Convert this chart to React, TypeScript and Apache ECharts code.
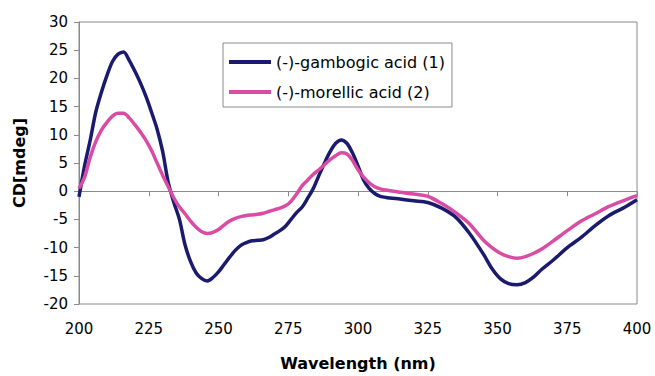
import React, { useEffect, useRef } from "react";
import * as echarts from "echarts";

const wavelengths = [
  200, 202, 204, 206, 208, 210, 212, 214, 216, 218, 220, 222, 224, 226, 228, 230, 232, 234, 236, 238,
  240, 242, 244, 246, 248, 250, 252, 254, 256, 258, 260, 262, 264, 266, 268, 270, 272, 274, 276, 278,
  280, 282, 284, 286, 288, 290, 292, 294, 296, 298, 300, 302, 304, 306, 308, 310, 315, 320, 325, 330,
  335, 340, 345, 348, 351, 354, 357, 360, 363, 366, 370, 375, 380, 385, 390, 395, 400,
];

const gambogic = [
  -1, 4.5, 9, 14, 17.5, 20.5, 23, 24.3, 24.7, 23.2, 21.3, 19.2, 16.8, 14, 11, 7, 1.5, -2, -5, -9.5,
  -12.5, -14.5, -15.5, -15.9, -15.3, -14.3, -13, -11.7, -10.5, -9.6, -9.1, -8.8, -8.7, -8.6, -8.2, -7.6, -7, -6.2, -5, -3.8,
  -2.8, -1.2, 0.5, 2.8, 5, 7, 8.5, 9.1, 8.5, 6.8, 4.5, 2, 0.5, -0.4, -0.9, -1.1, -1.4, -1.7, -2, -3,
  -4.6, -7.5, -11.2, -13.7, -15.5, -16.4, -16.6, -16.2, -15.2, -13.8, -12.2, -10, -8.2, -6.1, -4.3, -3, -1.5,
];

const morellic = [
  0.5, 2.5, 6, 8.8, 10.8, 12.2, 13.3, 13.8, 13.8, 13, 11.8, 10.5, 9, 7.2, 5, 2.8, 0.8, -1.2, -2.8, -4,
  -5.3, -6.4, -7.2, -7.5, -7.3, -6.8, -6, -5.3, -4.8, -4.5, -4.3, -4.2, -4.1, -3.9, -3.6, -3.3, -3, -2.6, -1.8, -0.5,
  1, 2, 3, 3.8, 4.7, 5.6, 6.3, 6.8, 6.6, 5.5, 3.8, 2.5, 1.5, 0.8, 0.4, 0.2, -0.2, -0.5, -0.9, -2.2,
  -3.8, -5.8, -8.7, -10, -11, -11.6, -11.9, -11.6, -11, -10.2, -8.8, -7, -5.3, -4, -2.7, -1.7, -0.8,
];

const seriesNames = ["(-)-gambogic acid (1)", "(-)-morellic acid (2)"];
const seriesColors = ["#1a1a6e", "#da4ca3"];

const FONT = "DejaVu Sans";

export default function App() {
  const ref = useRef<HTMLDivElement>(null);
  useEffect(() => {
    if (!ref.current) return;
    const chart = echarts.init(ref.current, null, { renderer: "svg" });
    const pairs = (vals: number[]) => wavelengths.map((w, i) => [w, vals[i]]);
    chart.setOption({
      animation: false,
      backgroundColor: "#ffffff",
      grid: {
        left: 79,
        right: 18,
        top: 22,
        bottom: 70,
        show: true,
        borderColor: "#8a8a8a",
        borderWidth: 1,
        backgroundColor: "transparent",
      },
      legend: {
        orient: "vertical",
        left: 223,
        top: 43,
        padding: [10, 7, 6, 6],
        backgroundColor: "#ffffff",
        borderColor: "#8a8a8a",
        borderWidth: 1,
        icon: "rect",
        itemWidth: 42,
        itemHeight: 4,
        itemGap: 12,
        textStyle: { fontFamily: FONT, fontSize: 16, color: "#000", lineHeight: 18 },
        data: seriesNames,
      },
      xAxis: [
        {
          type: "value",
          min: 200,
          max: 400,
          interval: 25,
          position: "bottom",
          axisLine: { show: false, onZero: false },
          axisTick: { show: false },
          splitLine: { show: false },
          axisLabel: { fontFamily: FONT, fontSize: 15, color: "#000", margin: 17 },
          name: "Wavelength (nm)",
          nameLocation: "middle",
          nameGap: 51,
          nameTextStyle: { fontFamily: FONT, fontSize: 16, fontWeight: "bold", color: "#000" },
        },
        {
          type: "value",
          min: 200,
          max: 400,
          interval: 25,
          position: "bottom",
          axisLine: { show: true, onZero: true, lineStyle: { color: "#8a8a8a", width: 1 } },
          axisTick: { show: true, length: 5, lineStyle: { color: "#8a8a8a" } },
          axisLabel: { show: false },
          splitLine: { show: false },
        },
      ],
      yAxis: {
        type: "value",
        min: -20,
        max: 30,
        interval: 5,
        axisLine: { show: true, onZero: false, lineStyle: { color: "#8a8a8a", width: 1 } },
        axisTick: { show: true, length: 5, lineStyle: { color: "#8a8a8a" } },
        splitLine: { show: false },
        axisLabel: { fontFamily: FONT, fontSize: 15, color: "#000", margin: 11 },
        name: "CD[mdeg]",
        nameLocation: "middle",
        nameRotate: 90,
        nameGap: 52,
        nameTextStyle: { fontFamily: FONT, fontSize: 16, fontWeight: "bold", color: "#000" },
      },
      series: [
        {
          name: seriesNames[0],
          type: "line",
          xAxisIndex: 0,
          data: pairs(gambogic),
          smooth: 0.3,
          symbol: "none",
          showSymbol: false,
          lineStyle: { color: seriesColors[0], width: 3.5 },
          itemStyle: { color: seriesColors[0] },
          z: 3,
        },
        {
          name: seriesNames[1],
          type: "line",
          xAxisIndex: 0,
          data: pairs(morellic),
          smooth: 0.3,
          symbol: "none",
          showSymbol: false,
          lineStyle: { color: seriesColors[1], width: 3.5 },
          itemStyle: { color: seriesColors[1] },
          z: 4,
        },
      ],
    });
    return () => chart.dispose();
  }, []);
  return (
    <div
      ref={ref}
      style={{ position: "fixed", left: 0, top: 0, width: 655, height: 376, background: "#fff" }}
    />
  );
}
